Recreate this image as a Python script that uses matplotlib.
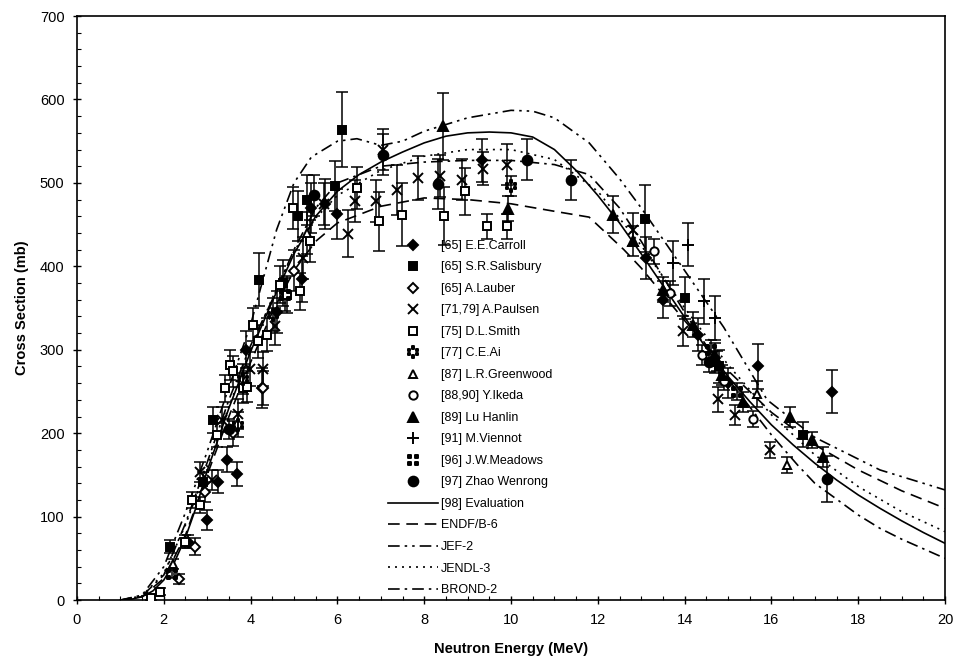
import matplotlib
matplotlib.use("Agg")
import matplotlib.pyplot as plt
from matplotlib.lines import Line2D
from matplotlib.path import Path
from matplotlib.ticker import MultipleLocator

plt.rcParams['font.family'] = ['Liberation Sans', 'DejaVu Sans']

# evaluated curves (energy in MeV, cross section in mb)
eval_e = [1.0, 1.25, 1.5, 1.75, 2.0, 2.25, 2.5, 2.75, 3.0, 3.5, 4.0, 4.5, 5.0, 5.5, 6.0, 6.5, 7.0,
          7.5, 8.0, 8.5, 9.0, 9.5, 10.0, 10.5, 11.0, 11.5, 12.0, 12.5, 13.0, 13.5, 14.0, 14.5,
          15.0, 15.5, 16.0, 16.5, 17.0, 17.5, 18.0, 18.5, 19.0, 19.5, 20.0]
eval_s = [0, 1, 4, 11, 24, 46, 75, 112, 155, 230, 298, 358, 415, 460, 490, 510, 525,
          537, 548, 556, 560, 561, 560, 555, 540, 515, 485, 452, 415, 377, 339, 302,
          268, 238, 210, 186, 164, 144, 126, 110, 95, 81, 68]

endf_e = [1.0, 1.5, 2.0, 2.5, 3.0, 3.5, 4.0, 4.5, 5.0, 5.5, 6.0, 7.0, 8.0, 9.0, 10.0, 11.0,
          11.8, 12.6, 13.0, 14.0, 15.0, 16.0, 17.0, 18.0, 19.0, 20.0]
endf_s = [0, 4, 26, 78, 150, 220, 285, 345, 395, 430, 452, 472, 482, 480, 475, 466,
          459, 420, 398, 335, 275, 225, 186, 156, 131, 110]

jef_e = [1.0, 1.5, 2.0, 2.5, 3.0, 3.5, 4.0, 4.6, 5.0, 5.4, 6.0, 6.45, 7.0, 7.5, 8.0, 9.0, 10.0,
         10.5, 11.0, 11.8, 12.5, 13.0, 14.0, 14.9, 15.9, 17.0, 18.5, 20.0]
jef_s = [0, 6, 40, 105, 178, 255, 330, 444, 500, 531, 550, 553, 545, 550, 562, 578, 587,
         586, 578, 548, 505, 470, 395, 327, 240, 195, 156, 132]

jendl_e = [1.0, 1.5, 2.0, 2.5, 3.0, 3.5, 4.0, 4.5, 5.0, 5.5, 6.0, 7.0, 8.0, 9.0, 10.0, 11.0,
           12.0, 13.0, 14.0, 15.0, 16.0, 17.0, 18.0, 19.0, 20.0]
jendl_s = [0, 5, 32, 90, 160, 232, 300, 362, 418, 458, 485, 515, 532, 540, 540, 528,
           490, 425, 350, 282, 222, 174, 136, 106, 82]

brond_e = [1.0, 1.5, 2.0, 2.5, 3.0, 3.5, 4.0, 4.5, 5.0, 5.5, 6.0, 7.0, 8.0, 9.0, 10.0, 11.0,
           11.8, 12.5, 13.0, 14.0, 15.0, 16.0, 16.6, 17.0, 18.0, 18.5, 19.0, 20.0]
brond_s = [0, 5, 30, 92, 165, 240, 305, 360, 420, 470, 500, 520, 525, 527, 527, 522,
           510, 470, 430, 345, 265, 198, 162, 140, 102, 86, 73, 50]

# measured data: energy, cross section, error
carroll_e = [2.55, 3.0, 3.25, 3.46, 3.69, 3.9, 4.26, 4.6, 5.18, 5.4, 5.71, 5.99, 9.33, 13.1,
             13.5, 14.3, 14.7, 15.0, 15.69, 17.4]
carroll_s = [70, 96, 142, 168, 151, 300, 254, 345, 385, 470, 475, 463, 527, 410,
             360, 318, 290, 260, 280, 250]
carroll_d = [8, 12, 14, 15, 14, 22, 24, 25, 28, 30, 30, 30, 26, 25, 22, 20, 18, 18, 27, 26]

salis_e = [2.14, 2.9, 3.13, 4.2, 4.75, 5.1, 5.3, 5.94, 6.1, 13.09, 14.0, 14.8, 16.73]
salis_s = [64, 142, 216, 384, 380, 460, 480, 496, 564, 457, 362, 280, 198]
salis_d = [8, 12, 16, 32, 28, 30, 30, 30, 45, 40, 25, 20, 15]

lauber_e = [2.35, 2.72, 2.95, 3.6, 4.29, 5.0]
lauber_s = [25, 64, 130, 200, 254, 395]
lauber_d = [6, 10, 12, 15, 20, 25]

paul_e = [2.83, 3.11, 3.34, 3.71, 3.99, 4.29, 4.56, 5.2, 5.7, 6.24, 6.4, 6.9, 7.05, 7.37,
          7.86, 8.36, 8.87, 9.35, 9.9, 12.8, 13.97, 14.77, 15.16, 15.97]
paul_s = [154, 144, 216, 223, 277, 277, 328, 410, 475, 439, 478, 478, 540, 492,
          506, 508, 504, 517, 522, 444, 322, 241, 222, 180]
paul_d = [12, 12, 15, 18, 20, 20, 22, 25, 25, 28, 25, 25, 25, 30,
          26, 25, 25, 20, 25, 20, 18, 15, 12, 10]

smith_e = [1.7, 1.91, 2.5, 2.65, 2.83, 3.22, 3.41, 3.53, 3.6, 3.83, 3.92, 4.05, 4.17, 4.38,
           4.68, 4.84, 4.98, 5.14, 5.38, 6.45, 6.96, 7.49, 8.46, 8.94, 9.45, 9.9]
smith_s = [3, 10, 70, 120, 114, 198, 254, 282, 274, 254, 256, 330, 310, 318,
           378, 366, 470, 370, 430, 494, 454, 462, 460, 490, 448, 448]
smith_d = [3, 4, 8, 10, 10, 14, 16, 18, 18, 18, 18, 20, 20, 20,
           22, 22, 25, 22, 25, 25, 35, 38, 35, 28, 15, 15]

ai_e = [3.7, 3.83, 4.52, 10.0]
ai_s = [210, 265, 342, 496]
ai_d = [15, 18, 20, 12]

green_e = [2.21, 5.3, 15.67, 16.36]
green_s = [43, 440, 247, 162]
green_d = [6, 25, 15, 10]

ikeda_e = [13.3, 13.66, 14.4, 15.58, 14.9]
ikeda_s = [418, 368, 294, 217, 262]
ikeda_d = [15, 15, 12, 10, 10]

lu_e = [8.43, 9.93, 12.35, 12.8, 13.5, 14.2, 14.75, 14.86, 15.35, 16.43, 16.94, 17.19]
lu_s = [568, 469, 462, 430, 372, 330, 286, 270, 238, 220, 192, 172]
lu_d = [40, 15, 22, 18, 15, 15, 12, 12, 12, 12, 10, 12]

vien_e = [13.74, 14.08, 14.45, 14.7]
vien_s = [404, 426, 358, 338]
vien_d = [26, 26, 27, 26]

mead_e = [2.19, 4.79, 14.6, 15.2]
mead_s = [31, 366, 300, 250]
mead_d = [5, 20, 12, 10]

zhao_e = [3.5, 5.45, 7.05, 8.32, 10.37, 11.38, 14.55, 17.28]
zhao_s = [205, 485, 534, 499, 528, 503, 285, 145]
zhao_d = [12, 25, 25, 30, 25, 24, 12, 28]


def dot_path(centers, r=0.17):
    verts, codes = [], []
    for cx, cy in centers:
        verts += [(cx - r, cy - r), (cx + r, cy - r), (cx + r, cy + r), (cx - r, cy + r), (cx - r, cy - r)]
        codes += [Path.MOVETO, Path.LINETO, Path.LINETO, Path.LINETO, Path.CLOSEPOLY]
    return Path(verts, codes)


mead_marker = dot_path([(-0.5, -0.5), (0.5, -0.5), (-0.5, 0.5), (0.5, 0.5)])
ai_marker = dot_path([(0.0, 0.75), (0.65, 0.38), (0.65, -0.38), (0.0, -0.75),
                      (-0.65, -0.38), (-0.65, 0.38)], r=0.2)

sets = [
    (carroll_e, carroll_s, carroll_d, 'D', 'k', 5, '[65] E.E.Carroll'),
    (salis_e, salis_s, salis_d, 's', 'k', 6, '[65] S.R.Salisbury'),
    (lauber_e, lauber_s, lauber_d, 'D', 'w', 5, '[65] A.Lauber'),
    (paul_e, paul_s, paul_d, 'x', 'k', 7, '[71,79] A.Paulsen'),
    (smith_e, smith_s, smith_d, 's', 'w', 6, '[75] D.L.Smith'),
    (ai_e, ai_s, ai_d, ai_marker, 'k', 8, '[77] C.E.Ai'),
    (green_e, green_s, green_d, '^', 'w', 6, '[87] L.R.Greenwood'),
    (ikeda_e, ikeda_s, ikeda_d, 'o', 'w', 6, '[88,90] Y.Ikeda'),
    (lu_e, lu_s, lu_d, '^', 'k', 7, '[89] Lu Hanlin'),
    (vien_e, vien_s, vien_d, '+', 'k', 8, '[91] M.Viennot'),
    (mead_e, mead_s, mead_d, mead_marker, 'k', 7, '[96] J.W.Meadows'),
    (zhao_e, zhao_s, zhao_d, 'o', 'k', 7, '[97] Zhao Wenrong'),
]

curves = [
    (eval_e, eval_s, '-', '[98] Evaluation'),
    (endf_e, endf_s, (0, (7, 4)), 'ENDF/B-6'),
    (jef_e, jef_s, (0, (7, 3, 1.5, 3, 1.5, 3)), 'JEF-2'),
    (jendl_e, jendl_s, (0, (1.2, 3)), 'JENDL-3'),
    (brond_e, brond_s, (0, (7, 3, 1.5, 3)), 'BROND-2'),
]

fig = plt.figure(figsize=(9.55, 6.69), dpi=100)
ax = fig.add_axes([0.0806, 0.103, 0.909, 0.873])

handles = []
for e, s, d, m, fc, ms, lab in sets:
    ax.errorbar(e, s, yerr=d, fmt='none', ecolor='k', elinewidth=1.1, capsize=4, capthick=1.1, zorder=3)
    ax.plot(e, s, ls='none', marker=m, ms=ms, mfc=fc, mec='k', mew=1.4, zorder=4)
    handles.append(Line2D([], [], ls='none', marker=m, ms=ms, mfc=fc, mec='k', mew=1.4, label=lab))

for e, s, ls, lab in curves:
    ax.plot(e, s, color='k', ls=ls, lw=1.2, zorder=2)
    handles.append(Line2D([], [], color='k', ls=ls, lw=1.2, label=lab))

ax.set_xlim(0, 20)
ax.set_ylim(0, 700)
ax.xaxis.set_major_locator(MultipleLocator(2))
ax.xaxis.set_minor_locator(MultipleLocator(0.5))
ax.yaxis.set_major_locator(MultipleLocator(100))
ax.yaxis.set_minor_locator(MultipleLocator(20))
ax.tick_params(which='major', direction='inout', length=6, width=1, labelsize=10.5, pad=6)
ax.tick_params(which='minor', direction='in', length=3, width=0.8)
for sp in ax.spines.values():
    sp.set_linewidth(1.2)

ax.set_xlabel('Neutron Energy (MeV)', fontsize=10.5, fontweight='bold', labelpad=11)
ax.set_ylabel('Cross Section (mb)', fontsize=10.5, fontweight='bold', labelpad=8)

fig.legend(handles=handles, loc='upper left', bbox_to_anchor=(388 / 955, 1 - 240 / 669),
           frameon=False, fontsize=9, handlelength=4.0, handletextpad=0.2, labelspacing=0.76,
           borderpad=0, borderaxespad=0)

fig.savefig('out.png', dpi=100)
